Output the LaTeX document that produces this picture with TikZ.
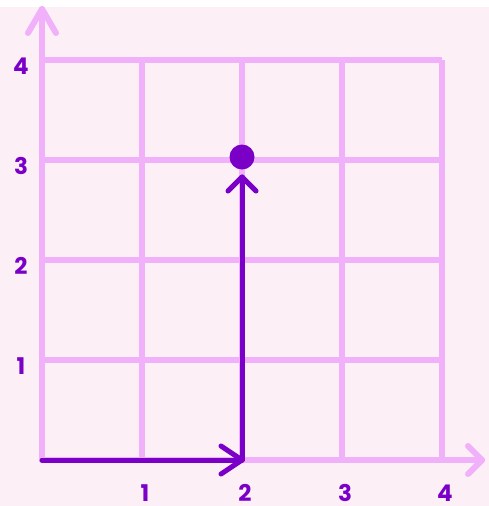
\documentclass[tikz,border=0pt]{standalone}
\usepackage{fontspec}
\setmainfont{Poppins}
\definecolor{bgpink}{HTML}{FCF0F6}
\definecolor{gridpink}{HTML}{F1B1FA}
\definecolor{vecpurple}{HTML}{7A00C8}
\begin{document}
\begin{tikzpicture}[x=1pt,y=-1pt,
  gridline/.style={draw=gridpink,line width=6pt},
  vecline/.style={draw=vecpurple,line width=5pt,line cap=round,line join=round},
  lbl/.style={text=vecpurple,font=\fontsize{23}{23}\selectfont\bfseries,inner sep=0pt,text depth=0pt,text height=17pt,anchor=base}]
\useasboundingbox (0,0) rectangle (489,506);
\fill[white] (0,0) rectangle (489,506);
\fill[bgpink] (0,7) rectangle (489,506);
% grid
\foreach \i in {1,2,3,4} {
  \draw[gridline] (42+\i*100,60) -- (42+\i*100,460);
  \draw[gridline] (42,460-\i*100) -- (442,460-\i*100);
}
% axes
\coordinate (O) at (42,460);
\coordinate (ytip) at (42,9);
\coordinate (xtip) at (482,460);
\draw[gridline,line cap=round] (O) -- (ytip);
\draw[gridline,line cap=round] (O) -- (xtip);
\draw[gridline,line cap=round,line join=round] (28,33) -- (ytip) -- (56,33);
\draw[gridline,line cap=round,line join=round] (468,446) -- (xtip) -- (468,474);
% labels
\foreach \i in {1,2,3,4} {
  \node[lbl] (yl\i) at (21,474-\i*100) {\i};
  \node[lbl] (xl\i) at (45+\i*100,501) {\i};
}
% vectors
\coordinate (A) at (42,460);
\coordinate (B) at (242,460);
\coordinate (C) at (242,177);
\draw[vecline] (A) -- (B);
\draw[vecline] (221,446) -- (B) -- (221,474);
\draw[vecline] (B) -- (C);
\draw[vecline] (228,191) -- (C) -- (256,191);
\fill[vecpurple] (242,157) circle (12.5);
\end{tikzpicture}
\end{document}
